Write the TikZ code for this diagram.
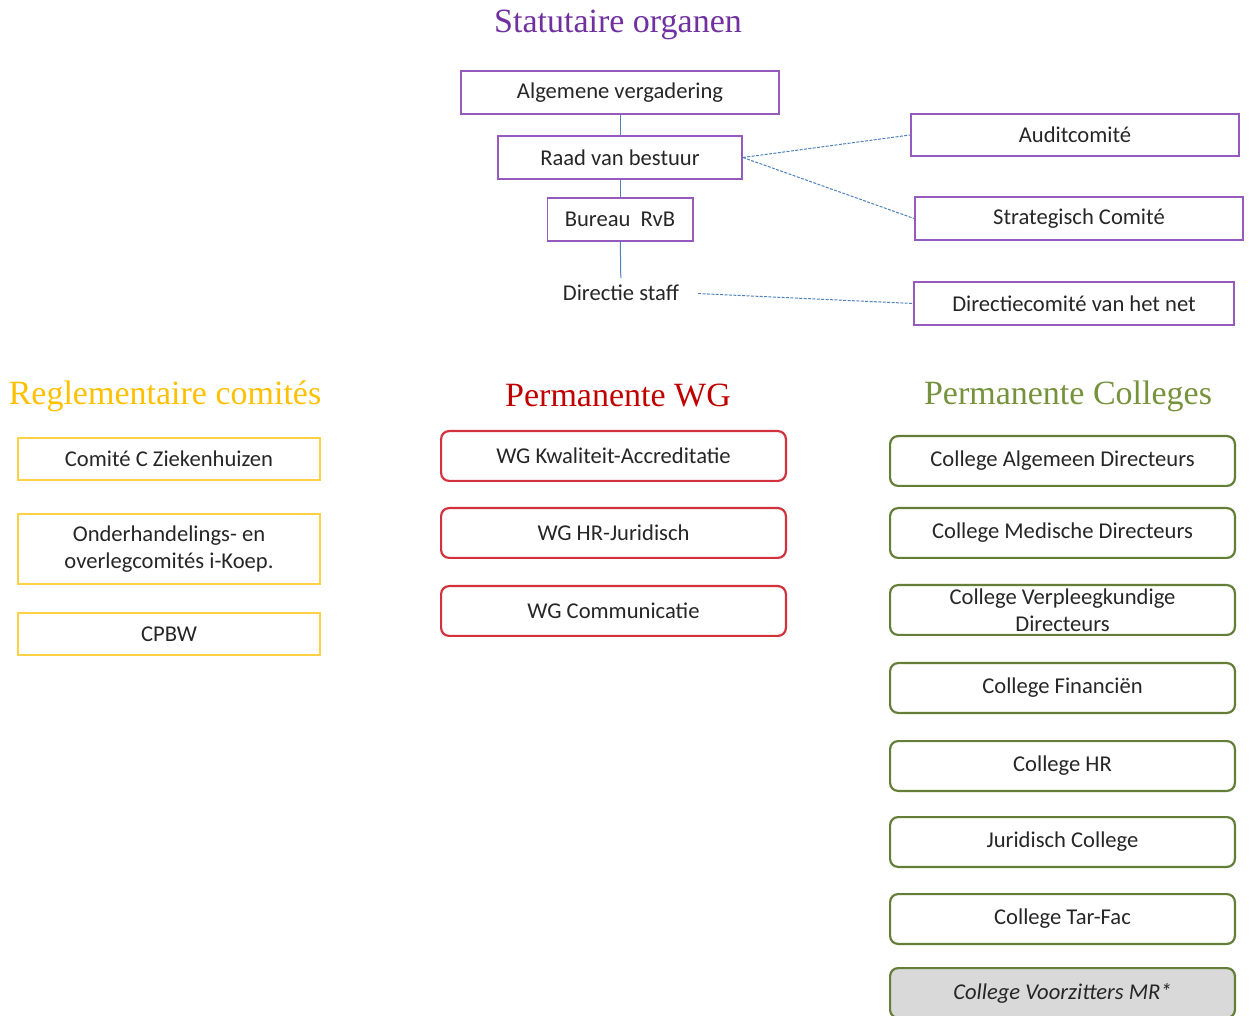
\documentclass[tikz,border=0pt]{standalone}
\usepackage{fontspec}
\setmainfont{Carlito}
\newfontfamily\headfont{Liberation Serif}
\usetikzlibrary{positioning}
\definecolor{statpurple}{RGB}{112,48,160}
\definecolor{boxpurple}{RGB}{150,90,190}
\definecolor{linkblue}{RGB}{79,129,189}
\definecolor{reggold}{RGB}{255,192,0}
\definecolor{regbox}{RGB}{255,210,70}
\definecolor{wgred}{RGB}{192,0,0}
\definecolor{wgbox}{RGB}{210,50,60}
\definecolor{colgreen}{RGB}{118,146,60}
\definecolor{colbox}{RGB}{100,125,55}
\definecolor{mrgray}{RGB}{217,217,217}

\begin{document}
\begin{tikzpicture}[x=0.5pt,y=-0.5pt,font=\fontsize{11.3}{13.5}\selectfont]
\tikzstyle{title}=[font=\headfont\fontsize{17}{20}\selectfont]
\tikzstyle{organ}=[rectangle, draw=boxpurple, line width=0.9pt, minimum height=21.6pt, text=black!85]
\tikzstyle{regl}=[rectangle, draw=regbox, line width=0.8pt, minimum width=151.2pt, minimum height=21.2pt, align=center, text=black!85]
\tikzstyle{wg}=[rectangle, rounded corners=4pt, draw=wgbox, line width=1.1pt, minimum width=172.4pt, minimum height=24.9pt, text=black!85]
\tikzstyle{coll}=[rectangle, rounded corners=4pt, draw=colbox, line width=1.1pt, minimum width=172.4pt, minimum height=24.9pt, inner ysep=0pt, align=center, text=black!85]
\tikzstyle{connect}=[linkblue, line width=0.5pt]
\tikzstyle{link}=[linkblue, line width=0.5pt, dash pattern=on 1.5pt off 0.7pt]
\useasboundingbox (0,0) rectangle (1255,1016);

% statutaire organen
\node[title, text=statpurple] (tstat) at (618,25) {Statutaire organen};
\node[organ, minimum width=159pt] (av) at (620,92.5) {Algemene vergadering};
\node[organ, minimum width=122pt] (rvb) [below=10pt of av] {Raad van bestuur};
\node[organ, minimum width=72.6pt] (bur) [below=8.5pt of rvb] {Bureau\ \ RvB};
\node[text=black!85] (ds) at (621,293) {Directie staff};
\node[organ, minimum width=164pt, minimum height=21.1pt] (audit) at (1075,135) {Auditcomité};
\node[organ, minimum width=164pt] (strat) at (1079,218.5) {Strategisch Comité};
\node[organ, minimum width=160pt] (dcn) at (1074,303.5) {Directiecomité van het net};
\path (av) edge[connect] (rvb)
      (rvb) edge[connect] (bur)
      (bur) edge[connect] (ds)
      ;
\draw[link] (rvb.east) -- (audit.west);
\draw[link] (rvb.east) -- (strat.west);
\draw[link, shorten <=6pt] (ds.east) -- (dcn.west);

% reglementaire comites
\node[title, text=reggold] (treg) at (165,396) {Reglementaire comités};
\node[regl] (r1) at (169,459) {Comité C Ziekenhuizen};
\node[regl, minimum height=35.2pt] (r2) [below=16pt of r1] {Onderhandelings- en\\overlegcomités i-Koep.};
\node[regl] (r3) [below=13.5pt of r2] {CPBW};

% permanente WG
\node[title, text=wgred] (twg) at (618,396) {Permanente WG};
\node[wg] (w1) at (613.5,456) {WG Kwaliteit-Accreditatie};
\node[wg] (w2) [below=12.5pt of w1] {WG HR-Juridisch};
\node[wg] (w3) [below=13pt of w2] {WG Communicatie};

% permanente colleges
\node[title, text=colgreen] (tcol) at (1068,396) {Permanente Colleges};
\node[coll] (c1) at (1062.5,461) {College Algemeen Directeurs};
\node[coll] (c2) [below=10pt of c1] {College Medische Directeurs};
\node[coll] (c3) [below=12.5pt of c2] {College Verpleegkundige\\Directeurs};
\node[coll] (c4) [below=13pt of c3] {College Financiën};
\node[coll] (c5) [below=13pt of c4] {College HR};
\node[coll] (c6) [below=12pt of c5] {Juridisch College};
\node[coll] (c7) [below=12.5pt of c6] {College Tar-Fac};
\node[coll, fill=mrgray, font=\fontsize{11.3}{13.5}\selectfont\itshape] (c8) [below=11pt of c7] {College Voorzitters MR*};
\end{tikzpicture}
\end{document}
